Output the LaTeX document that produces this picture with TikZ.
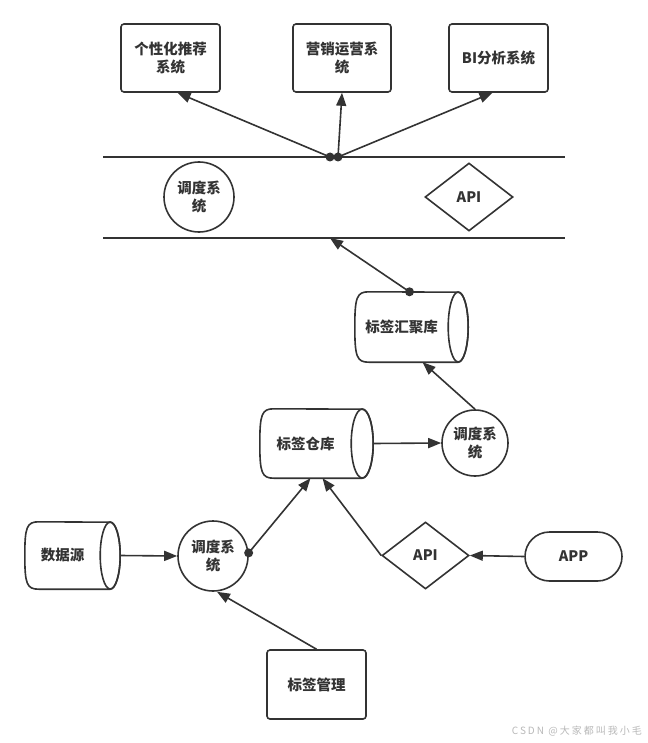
\documentclass[tikz,border=0pt]{standalone}
\usepackage{fontspec}
\setmainfont{Noto Sans CJK SC}
\usetikzlibrary{arrows.meta,shapes.geometric,shapes.misc}
\definecolor{ink}{HTML}{333333}
\tikzset{
  ln/.style={draw=ink,line width=1.6pt},
  arr/.style={ln,-{Triangle[length=13pt,width=10pt]}},
  txt/.style={font=\fontsize{14.5}{18}\selectfont\bfseries, text=ink, align=center, inner sep=0pt},
  box/.style={txt, draw=ink, line width=1.6pt, rounded corners=3pt, minimum width=99pt, minimum height=68pt},
  circ/.style={txt, circle, draw=ink, line width=1.6pt, minimum size=70pt},
  dia/.style={txt, diamond, draw=ink, line width=1.6pt, minimum width=88pt, minimum height=68pt},
  cylnode/.style={txt, rectangle},
  dot/.style={fill=ink},
}
\newcommand\drawcyl[3]{%
  \draw[ln] ([xshift=14pt]#1.north west) .. controls ([xshift=2pt]#1.north west) and ([yshift=0.85*#3]#1.west) .. (#1.west)
    .. controls ([yshift=-0.85*#3]#1.west) and ([xshift=2pt]#1.south west) .. ([xshift=14pt]#1.south west)
    -- ([xshift=-#2]#1.south east) arc[start angle=-90,end angle=90,x radius=#2,y radius=#3] -- cycle;
  \draw[ln] ([xshift=-#2]#1.east) ellipse[x radius=#2,y radius=#3];
}
\begin{document}
\begin{tikzpicture}[x=1pt,y=1pt]
\useasboundingbox (0,0) rectangle (647,-743);
\fill[white] (0,0) rectangle (647,-743);

% top systems
\node[box] (b1) at (170.5,-58) {个性化推荐\\系统};
\node[box, minimum width=98pt] (b2) at (342,-58) {营销运营系\\统};
\node[box] (b3) at (498.5,-58) {BI分析系统};

% bus lines
\coordinate (t1) at (103,-157);
\coordinate (t2) at (565,-157);
\coordinate (u1) at (103,-238);
\coordinate (u2) at (565,-238);
\draw[ln] (t1) -- (t2);
\draw[ln] (u1) -- (u2);

\node[circ] (c1) at (199,-197) {调度系\\统};
\node[dia] (d1) at (469,-197) {API};

% junction
\coordinate (j1) at (330,-157);
\coordinate (j2) at (338,-157);
\draw[arr] (j1) -- ([xshift=7pt]b1.south);
\draw[arr] (j2) -- (b2.south);
\draw[arr] (j2) -- ([xshift=-6pt]b3.south);
\fill[dot] (j1) circle (4.5pt);
\fill[dot] (j2) circle (4.5pt);

% tag aggregation store
\node[cylnode, minimum width=113pt, minimum height=70pt] (cy3) at (411.5,-327) {标签汇聚库\hspace*{20pt}};
\drawcyl{cy3}{10pt}{35pt}
\coordinate (a1) at (330,-238);
\draw[arr] ([xshift=-2pt]cy3.north) -- (a1);
\fill[dot] ([xshift=-2pt]cy3.north) circle (4.5pt);

% scheduler 2
\node[circ, minimum size=66pt] (c2) at (475,-443) {调度系\\统};
\draw[arr] (c2.north) -- ([xshift=11pt]cy3.south);

% tag warehouse
\node[cylnode, minimum width=113pt, minimum height=69pt] (cy2) at (316.5,-443.5) {标签仓库\hspace*{22pt}};
\drawcyl{cy2}{11pt}{34.5pt}
\draw[arr] (cy2.east) -- (c2.west);

% data source
\node[cylnode, minimum width=95pt, minimum height=67pt] (cy1) at (72.5,-555.5) {数据源\hspace*{20pt}};
\drawcyl{cy1}{10pt}{33.5pt}

% scheduler 3
\node[circ] (c3) at (213,-556) {调度系\\统};
\draw[arr] (cy1.east) -- (c3.west);
\draw[arr] (c3.5) -- ([xshift=-6pt]cy2.south);
\fill[dot] (c3.5) circle (4.5pt);

% API 2 and APP
\node[dia, minimum width=87pt, minimum height=67pt] (d2) at (425.5,-555.5) {API};
\node[txt, rounded rectangle, draw=ink, line width=1.6pt, minimum width=97pt, minimum height=49pt] (app) at (573.5,-556.5) {APP};
\draw[arr] (app.west) -- (d2.east);
\draw[arr] (d2.west) -- ([xshift=6pt]cy2.south);

% tag management
\node[box, minimum height=69pt] (tm) at (316.5,-684.5) {标签管理};
\draw[arr] (tm.north) -- ([xshift=4pt]c3.south);

% watermark
\node[anchor=east, font=\fontsize{10}{12}\selectfont\addfontfeature{LetterSpace=20}, text=gray!55, inner sep=0pt] (wm) at (642,-731) {CSDN @大家都叫我小毛};
\end{tikzpicture}
\end{document}
